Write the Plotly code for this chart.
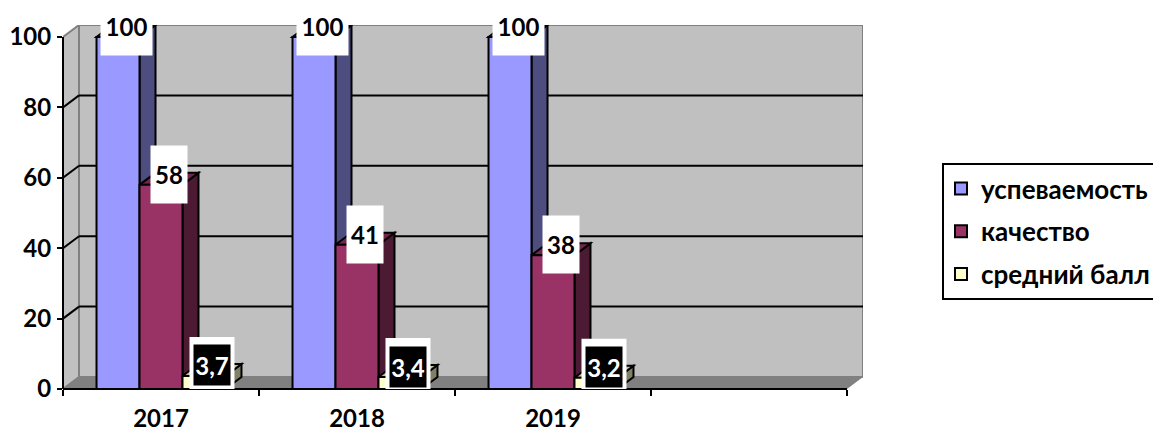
import plotly.graph_objects as go

categories = ["2017", "2018", "2019"]
series_names = ["успеваемость", "качество", "средний балл"]
uspevaemost = [100, 100, 100]
kachestvo = [58, 41, 38]
sredniy_ball = [3.7, 3.4, 3.2]
y_ticks = [0, 20, 40, 60, 80, 100]

all_series = [uspevaemost, kachestvo, sredniy_ball]
front_colors = ["#9999FF", "#993366", "#FFFFCC"]
side_colors = ["#4D4D80", "#4D1A33", "#808066"]
top_colors = ["#7373BF", "#73264D", "#BFBF99"]
label_widths = [51, 36, 45]

FONT = "Lato, 'Noto Sans', sans-serif"
BLACK = "#000000"
WALL = "#C0C0C0"
FLOOR = "#808080"

fig_w, fig_h = 1153, 432

# pixel scales of the plot box
px_per_cat = 196
px_per_val = 3.52
plot_w, plot_h = 800, 364
plot_l, plot_t = 63, 25
DX = 16 / px_per_cat       # 3D depth, in axis units
DY = 12 / px_per_val
x_lo = -0.5
x_hi = x_lo + plot_w / px_per_cat
x_front_hi = 3.5
y_hi = plot_h / px_per_val
GAP = 0.342
bw = (1 - GAP) / 3


def poly(pts, fill, line=None, lw=2, layer="below"):
    d = "M" + " L".join(f"{x:.4f},{y:.4f}" for x, y in pts) + " Z"
    return dict(type="path", path=d, xref="x", yref="y", fillcolor=fill, layer=layer,
                line=dict(color=line or "rgba(0,0,0,0)", width=lw if line else 0))


def seg(x0, y0, x1, y1, color=BLACK, lw=2):
    return dict(type="line", xref="x", yref="y", x0=x0, y0=y0, x1=x1, y1=y1,
                layer="below", line=dict(color=color, width=lw))


shapes = []
# walls and floor
shapes.append(poly([(x_lo + DX, DY), (x_hi, DY), (x_hi, y_hi), (x_lo + DX, y_hi)], WALL, FLOOR))
shapes.append(poly([(x_lo, 0), (x_lo + DX, DY), (x_lo + DX, y_hi), (x_lo, 100)], WALL, FLOOR))
shapes.append(poly([(x_lo, 0), (x_front_hi, 0), (x_hi, DY), (x_lo + DX, DY)], FLOOR))
# gridlines on the walls
for t in y_ticks[1:-1]:
    shapes.append(seg(x_lo + DX, t + DY, x_hi, t + DY))
    shapes.append(seg(x_lo, t, x_lo + DX, t + DY))
# depth faces of the bars
for j, vals in enumerate(all_series):
    for i, v in enumerate(vals):
        left = i - 1.5 * bw + j * bw
        right = left + bw
        shapes.append(poly([(right, 0), (right + DX, DY), (right + DX, v + DY), (right, v)],
                           side_colors[j], BLACK))
        shapes.append(poly([(left, v), (right, v), (right + DX, v + DY), (left + DX, v + DY)],
                           top_colors[j], BLACK))
# front axis lines
shapes.append(dict(type="line", xref="paper", yref="y", x0=0, x1=0, y0=0, y1=100,
                   layer="above", line=dict(color=BLACK, width=2)))
shapes.append(dict(type="line", xref="x", yref="paper", x0=x_lo, x1=x_front_hi, y0=0, y1=0,
                   layer="above", line=dict(color=BLACK, width=2)))

annotations = []
for j, vals in enumerate(all_series):
    dark = j == 2
    for i, v in enumerate(vals):
        cx = i - 1.5 * bw + (j + 0.5) * bw + DX / 2
        text = f"{v}".replace(".", ",")
        w = label_widths[j]
        if dark:
            shapes.append(dict(type="rect", xref="x", yref="y", xsizemode="pixel", ysizemode="pixel",
                               xanchor=cx, yanchor=v, x0=-w / 2, x1=w / 2, y0=10.5 - 28.5, y1=10.5 + 28.5,
                               fillcolor="#FFFFFF", line=dict(width=0), layer="above"))
        annotations.append(dict(
            x=cx, y=v, xref="x", yref="y", text=text, showarrow=False, yshift=10.5,
            xanchor="center", yanchor="middle", align="center", valign="middle",
            width=36 if dark else w, height=40 if dark else 57, borderpad=0,
            bgcolor=BLACK if dark else "#FFFFFF",
            font=dict(family=FONT, size=24, weight=700, color="#FFFFFF" if dark else BLACK)))

fig = go.Figure()
xpos = list(range(len(categories)))
for name, vals, col in zip(series_names, all_series, front_colors):
    fig.add_trace(go.Bar(x=xpos, y=vals, name=f"<b>{name}</b>", legendgroup=name, marker=dict(
        color=col, line=dict(color=BLACK, width=2))))

fig.update_layout(
    template="none",
    width=fig_w, height=fig_h, autosize=False,
    margin=dict(l=plot_l, r=fig_w - plot_l - plot_w, t=plot_t, b=fig_h - plot_t - plot_h,
                pad=0, autoexpand=False),
    paper_bgcolor="#FFFFFF", plot_bgcolor="#FFFFFF",
    barmode="group", bargap=GAP, bargroupgap=0,
    shapes=shapes, annotations=annotations,
    font=dict(family=FONT, color=BLACK),
    legend=dict(x=(942 - 63) / plot_w, xref="paper", xanchor="left", y=(389 - 163) / plot_h,
                yanchor="top", bgcolor="#FFFFFF", bordercolor=BLACK, borderwidth=2,
                tracegroupgap=6, traceorder="grouped", indentation=-3,
                font=dict(family=FONT, size=26, color=BLACK)),
    xaxis=dict(range=[x_lo, x_hi], tickmode="array", tickvals=xpos, ticktext=categories,
               ticks="outside", ticklen=8, tickcolor="rgba(0,0,0,0)", showgrid=False, zeroline=False,
               showline=False, automargin=False,
               tickfont=dict(family=FONT, size=24, weight=700, color=BLACK),
               minor=dict(tickmode="array", tickvals=[-0.5, 0.5, 1.5, 2.5, 3.5], ticks="outside",
                          ticklen=6, tickwidth=2, tickcolor=BLACK)),
    yaxis=dict(range=[0, y_hi], tickmode="array", tickvals=y_ticks, ticks="outside", ticklen=5,
               tickwidth=2, tickcolor=BLACK, ticklabelstandoff=1, showgrid=False, zeroline=False,
               showline=False, automargin=False,
               tickfont=dict(family=FONT, size=24, weight=700, color=BLACK)),
)

fig.write_html("out.html", config={"displayModeBar": False},
               post_script="document.body.style.margin='0';document.documentElement.style.overflow='hidden';")
